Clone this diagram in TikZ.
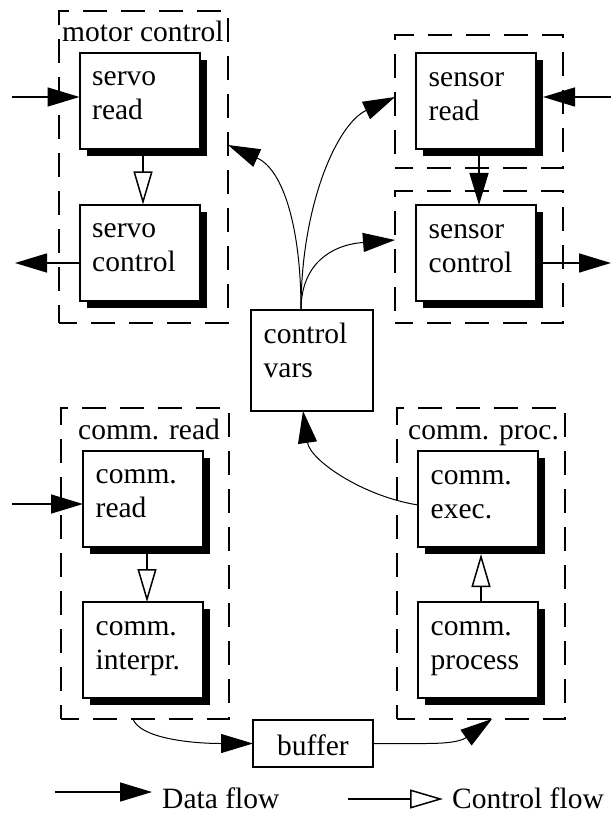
\documentclass[tikz,border=0pt]{standalone}
\usepackage{fontspec}
\setmainfont{Liberation Serif}
\usetikzlibrary{arrows.meta,shadows}

% two lines of text in the upper left of a box
\newcommand\boxlines[3]{%
  \node[txt,anchor=base west] at ([shift={(12.5,33)}]#1.north west) {#2};
  \node[txt,anchor=base west] at ([shift={(12.5,67)}]#1.north west) {#3};}

\begin{document}
\begin{tikzpicture}[x=1pt,y=-1pt,
  txt/.style={inner sep=0pt,font=\fontsize{29.5}{34}\selectfont},
  unit/.style={draw,fill=white,line width=2pt,outer sep=0pt,inner sep=0pt,
    minimum width=120pt,minimum height=96pt,
    general shadow={fill=black,shadow xshift=7pt,shadow yshift=-7pt}},
  plainbox/.style={draw,fill=white,line width=2pt,outer sep=0pt,inner sep=0pt},
  group/.style={draw,dash pattern=on 24pt off 14pt,dash phase=6pt,line width=2pt,
    outer sep=0pt,inner sep=0pt},
  data/.style={line width=1.5pt,-{Triangle[length=32pt,width=19pt]}},
  ctrl/.style={line width=1.5pt,-{Triangle[open,length=33pt,width=19pt,fill=white]}},
  curve/.style={line width=1pt,-{Triangle[length=32pt,width=19pt]}}]

\useasboundingbox (0,0) rectangle (611,813);

% dashed task groups
\node[group,minimum width=169pt,minimum height=312pt] (mc)  at (143.5,167) {};
\node[group,minimum width=168pt,minimum height=133pt] (srg) at (479,101.5) {};
\node[group,minimum width=168pt,minimum height=132pt] (scg) at (479,257) {};
\node[group,minimum width=168pt,minimum height=311pt] (crg) at (145,563.5) {};
\node[group,minimum width=168pt,minimum height=311pt] (cpg) at (481,563.5) {};

\node[txt,anchor=base west] at ([shift={(3,31)}]mc.north west) {motor control};
\node[txt,anchor=base west] at ([shift={(17,31)}]crg.north west) {comm. read};
\node[txt,anchor=base west] at ([shift={(11,31)}]cpg.north west) {comm. proc.};

% shared data
\node[plainbox,minimum width=122pt,minimum height=101pt] (cv) at (312,360.5) {};
\node[plainbox,minimum width=120pt,minimum height=47pt] (buf) at (313,743.5) {};

% task units
\node[unit] (sr)  at (139.5,101) {};
\node[unit] (sc)  at (139.5,252.5) {};
\node[unit] (snr) at (476,101.5) {};
\node[unit] (snc) at (476,253) {};
\node[unit] (cr)  at (143,498.5) {};
\node[unit] (ci)  at (143,650) {};
\node[unit] (ce)  at (478,499) {};
\node[unit] (cp)  at (478,650) {};

% free ends of the external connectors
\coordinate (srin)  at (12,97);
\coordinate (scout) at (15,263);
\coordinate (snrin) at (611,97);
\coordinate (sncout) at (611,263);
\coordinate (crin)  at (12,504);
\coordinate (cvtop) at ([xshift=-11pt]cv.north);
\coordinate (ceout) at (ce.west |- 0,505);

% external data flow
\draw[data] (srin) -- (srin -| sr.west);
\draw[data] (scout -| sc.west) -- (scout);
\draw[data] (snrin) -- ([xshift=7pt]snrin -| snr.east);
\draw[data] (sncout -| snc.east) -- (sncout);
\draw[data] (crin) -- (crin -| cr.west);

% data flow through the control variables
\draw[curve] (cvtop) .. controls (301,230) and (284,170) .. (mc.east |- 0,145);
\draw[curve] (cvtop) .. controls (301,205) and (337,124) .. (srg.west |- 0,97);
\draw[curve] (cvtop) .. controls (301,265) and (330,245) .. (scg.west |- 0,240);
\draw[curve] (ceout) .. controls (362,496) and (310,460) .. (cv.south -| 303,0);

% data flow through the buffer
\draw[curve] (crg.south -| 133,0) .. controls (140,738) and (190,743.5) .. (buf.west);
\draw[curve] (buf.east) -- (425,743.5) .. controls (445,743.5) and (460,742) .. (cpg.south -| 492,0);

% flow between units
\draw[ctrl] ([xshift=3.5pt]sr.south) -- ([xshift=3.5pt]sc.north);
\draw[data] ([xshift=3pt]snr.south) -- ([xshift=3pt]snc.north);
\draw[ctrl] ([xshift=4pt]cr.south) -- ([xshift=4pt]ci.north);
\draw[ctrl] ([xshift=3pt]cp.north) -- ([shift={(3,7)}]ce.south);

\boxlines{sr}{servo}{read}
\boxlines{sc}{servo}{control}
\boxlines{snr}{sensor}{read}
\boxlines{snc}{sensor}{control}
\boxlines{cr}{comm.}{read}
\boxlines{ci}{comm.}{interpr.}
\boxlines{ce}{comm.}{exec.}
\boxlines{cp}{comm.}{process}
\boxlines{cv}{control}{vars}
\node[txt,anchor=base] at ([yshift=-11.5pt]buf.center) {buffer};

% legend
\coordinate (dl0) at (55,792);
\coordinate (dl1) at (152,792);
\coordinate (cl0) at (348,799);
\coordinate (cl1) at (443,799);
\draw[data] (dl0) -- (dl1);
\draw[ctrl] (cl0) -- (cl1);
\node[txt,anchor=base west] at (162,808) {Data flow};
\node[txt,anchor=base west] at (452,808) {Control flow};
\end{tikzpicture}
\end{document}
